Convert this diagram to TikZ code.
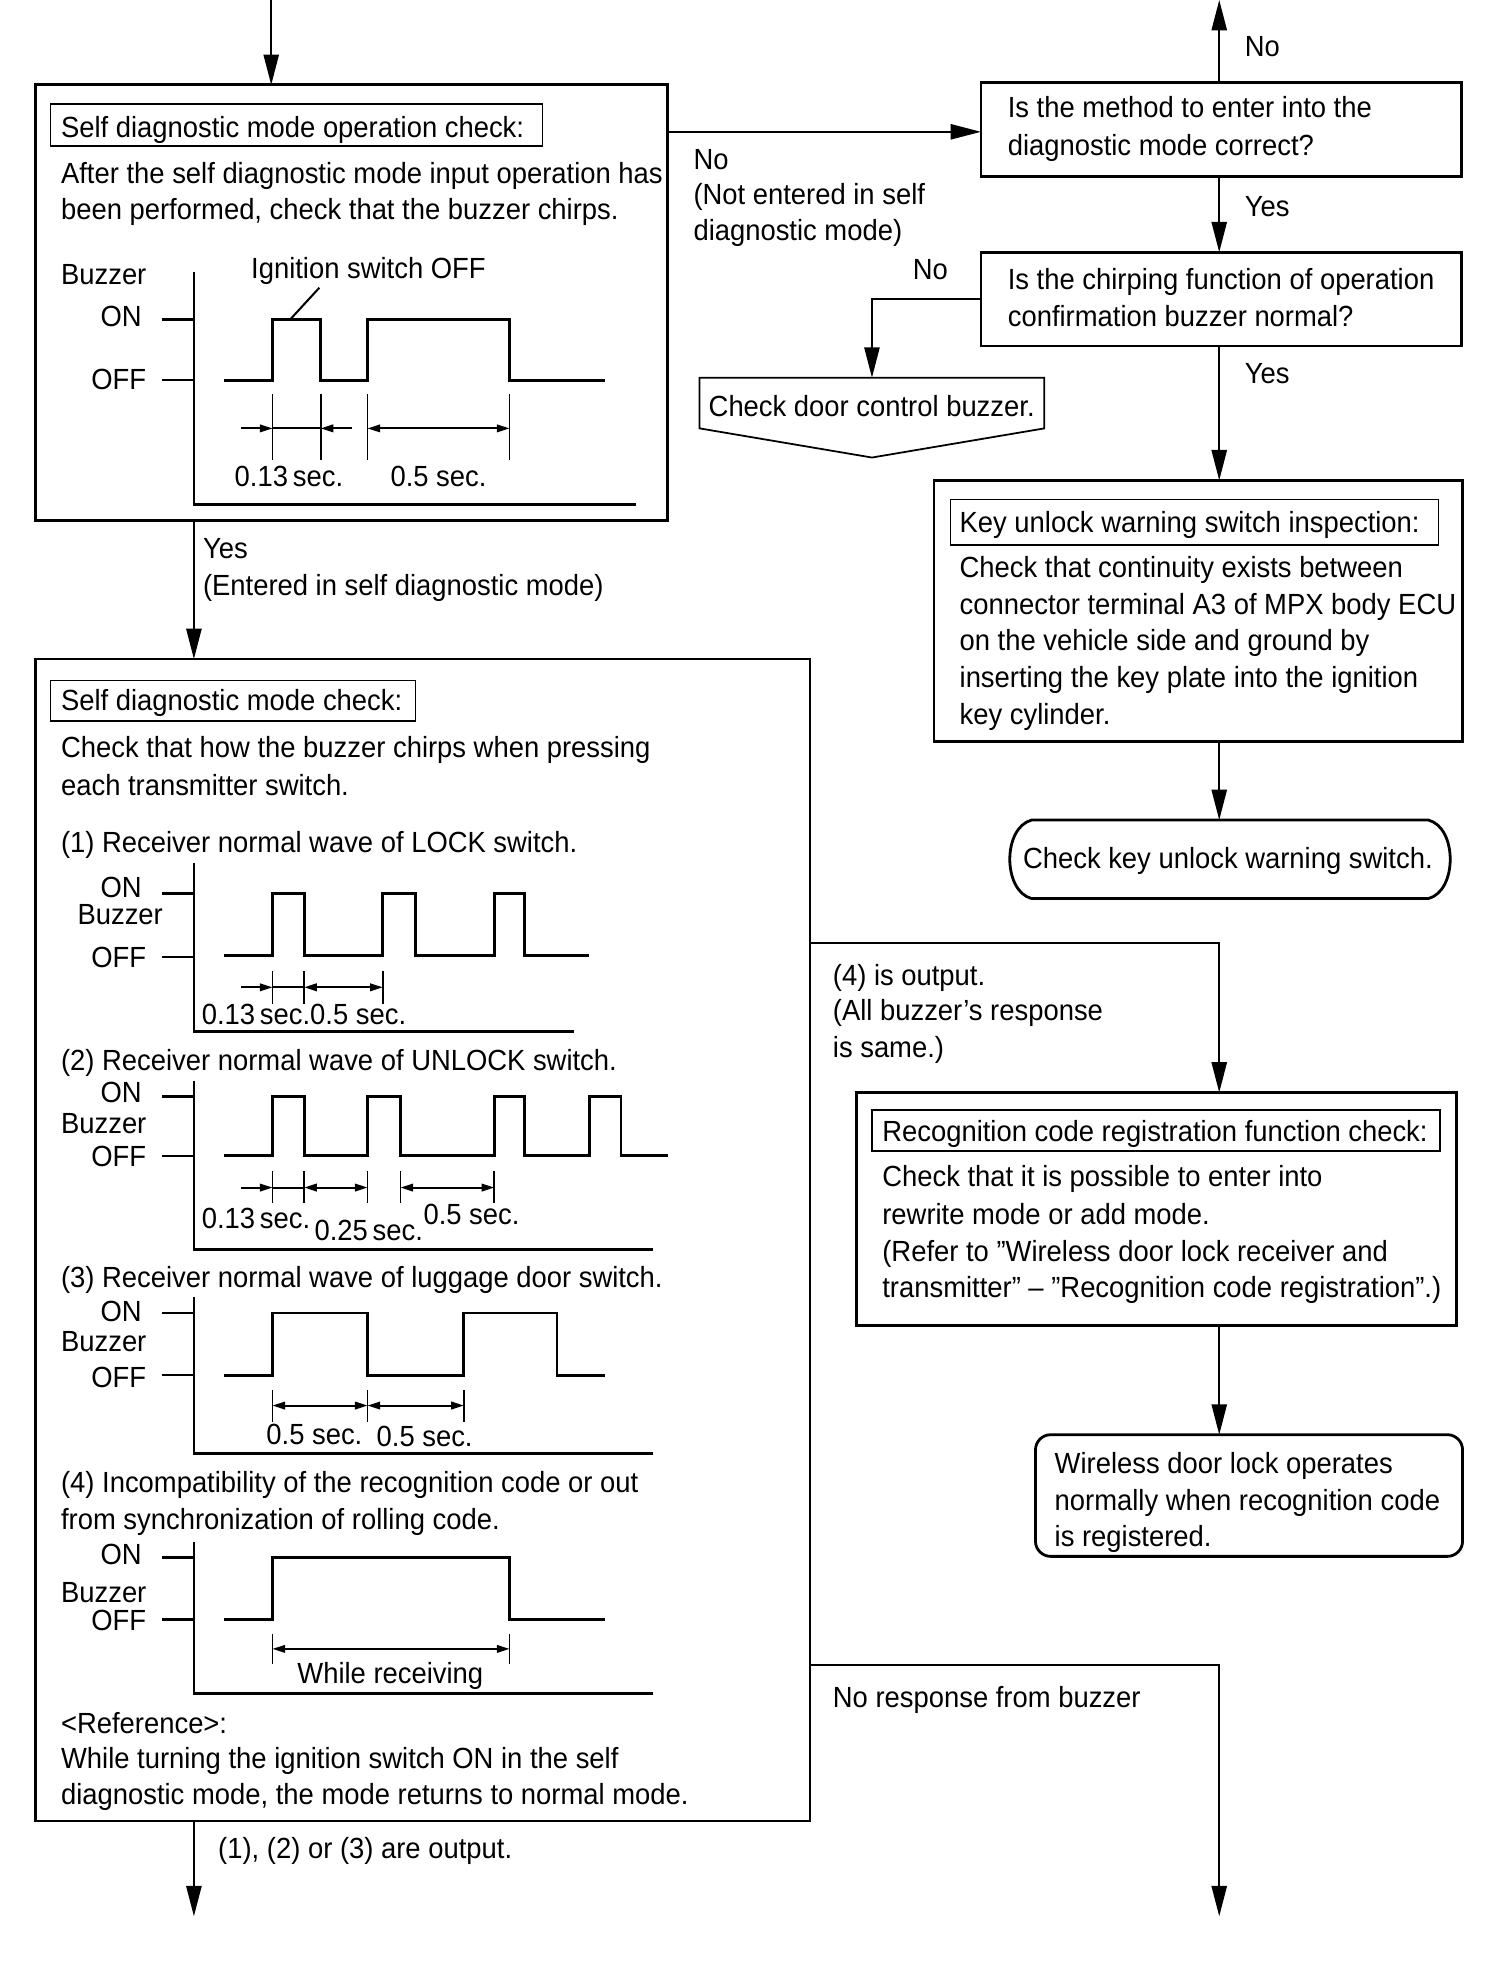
\documentclass[tikz,border=0pt]{standalone}
\usepackage{fontspec}
\setmainfont{Liberation Sans}[FakeStretch=0.94]
\usetikzlibrary{arrows.meta,calc}
\newcommand\myfont{\fontsize{23}{29}\selectfont}
\begin{document}
\begin{tikzpicture}[x=1pt,y=-1pt,
  txt/.style={inner sep=0pt, anchor=base west, font=\myfont},
  txtr/.style={inner sep=0pt, anchor=base east, font=\myfont},
  txtc/.style={inner sep=0pt, anchor=base, font=\myfont},
  box/.style={draw, rectangle, inner sep=0pt, outer sep=0pt, line width=2.2pt},
  thinbox/.style={draw, rectangle, inner sep=0pt, outer sep=0pt, line width=1.2pt},
  conn/.style={line width=1.6pt},
  arr/.style={conn, -{Triangle[length=24pt,width=12pt]}},
  wave/.style={line width=2.2pt, line join=miter},
  axis/.style={line width=2pt},
  dimt/.style={line width=1.5pt},
  darr/.style={line width=1.5pt, -{Triangle[length=10pt,width=6pt]}},
  ddarr/.style={line width=1.5pt, {Triangle[length=10pt,width=6pt]}-{Triangle[length=10pt,width=6pt]}}
]
\useasboundingbox (0,0) rectangle (1187,1567);

% ---------------- boxes ----------------
\node[box, line width=2.4pt, minimum width=499pt, minimum height=344pt] (b1) at (277.5,239) {};
\node[thinbox, minimum width=388pt, minimum height=33pt] (t1) at (234,98.5) {};
\node[box, minimum width=379pt, minimum height=74pt] (q1) at (963.5,102) {};
\node[box, minimum width=379pt, minimum height=74pt] (q2) at (963.5,236) {};
\node[box, minimum width=417pt, minimum height=206pt] (kb) at (945.5,482) {};
\node[thinbox, minimum width=385pt, minimum height=36pt] (kt) at (942.5,412) {};
\node[box, line width=1.6pt, minimum width=611pt, minimum height=917pt] (b2) at (333.5,978.5) {};
\node[thinbox, minimum width=288pt, minimum height=32pt] (t2) at (184,553) {};
\node[box, minimum width=473pt, minimum height=184pt] (rb) at (912.5,954) {};
\node[thinbox, minimum width=448pt, minimum height=32pt] (rt) at (912,892) {};
\node[box, rounded corners=12pt, minimum width=337pt, minimum height=96pt] (fb) at (985.5,1180) {};

% check door control buzzer (off-page shape)
\coordinate (cdtop) at (688,298);
\draw[line width=1.4pt] (552,298) -- (824,298) -- (824,338) -- (688,361) -- (552,338) -- cycle;
% terminal
\coordinate (cktop) at (962,647);
\draw[line width=2.2pt] (814,647) -- (1127,647) .. controls (1150,653) and (1150,703) .. (1127,709)
   -- (814,709) .. controls (791,703) and (791,653) .. (814,647) -- cycle;

% ---------------- connectors ----------------
\coordinate (in1) at (214,0);
\coordinate (colR) at (962,0);
\coordinate (colL) at (153,0);
\coordinate (cdx) at (688,0);
\coordinate (noY) at (0,104);
\coordinate (y4) at (0,744);
\coordinate (yNR) at (0,1314);
\coordinate (botL) at (153,1512);
\coordinate (botR) at (962,1512);

\draw[arr] (in1) -- (in1 |- b1.north);
\draw[arr] (q1.north -| colR) -- (colR);
\draw[arr] (b1.east |- noY) -- (q1.west |- noY);
\draw[arr] (q1.south -| colR) -- (q2.north -| colR);
\draw[arr] (q2.west) -- (q2.west -| cdx) -- (cdtop);
\draw[arr] (q2.south -| colR) -- (kb.north -| colR);
\draw[arr] (kb.south -| colR) -- (cktop);
\draw[arr] (b1.south -| colL) -- (b2.north -| colL);
\draw[arr] (b2.south -| colL) -- (botL);
\draw[arr] (b2.east |- y4) -| (rb.north -| colR);
\draw[arr] (rb.south -| colR) -- (fb.north -| colR);
\draw[arr] (b2.east |- yNR) -| (botR);

% ---------------- box 1 text & chart ----------------
\node[txt] (t1txt) at (48,108.5) {Self diagnostic mode operation check:};
\node[txt] (b1l1) at (48,144.5) {After the self diagnostic mode input operation has};
\node[txt] (b1l2) at (48,173.5) {been performed, check that the buzzer chirps.};
\node[txt] (bz0) at (48,224.5) {Buzzer};
\node[txt] (ign) at (198,219.5) {Ignition switch OFF};
\node[txtr] (on0) at (112,257.5) {ON};
\node[txtr] (off0) at (115.5,307.5) {OFF};
\node[txtc] (d01) at (228,383.5) {0.13\,sec.};
\node[txtc] (d02) at (346,383.5) {0.5 sec.};

\draw[axis] (153,215) -- (153,398) -- (502,398);
\draw[axis] (128,252) -- (153,252);
\draw[axis] (128,300) -- (153,300);
\draw[wave] (177,300) -- (215,300) -- (215,252) -- (253,252) -- (253,300) -- (290,300) -- (290,252) -- (402,252) -- (402,300) -- (477,300);
\draw[conn] (252,227) -- (229,252);
\foreach \x in {215,253,290,402} \draw[dimt] (\x,311) -- (\x,363);
\draw[darr] (190,338) -- (215,338);
\draw[dimt] (215,338) -- (253,338);
\draw[darr] (278,338) -- (253,338);
\draw[ddarr] (290,338) -- (402,338);

% ---------------- right column text ----------------
\node[txt] (no1) at (547,133.5) {No};
\node[txt] (no1b) at (547,161.5) {(Not entered in self};
\node[txt] (no1c) at (547,189.5) {diagnostic mode)};
\node[txt] (noTop) at (982,44.5) {No};
\node[txt] (q1a) at (795,92.5) {Is the method to enter into the};
\node[txt] (q1b) at (795,122.5) {diagnostic mode correct?};
\node[txt] (yes1) at (982,170.5) {Yes};
\node[txt] (q2a) at (795,228.5) {Is the chirping function of operation};
\node[txt] (q2b) at (795,257.5) {confirmation buzzer normal?};
\node[txt] (no2) at (720,220.5) {No};
\node[txt] (cdt) at (559,328.5) {Check door control buzzer.};
\node[txt] (yes2) at (982,302.5) {Yes};
\node[txt] (kttxt) at (757,420.5) {Key unlock warning switch inspection:};
\node[txt] (k1) at (757,455.5) {Check that continuity exists between};
\node[txt] (k2) at (757,484.5) {connector terminal A3 of MPX body ECU};
\node[txt] (k3) at (757,513.5) {on the vehicle side and ground by};
\node[txt] (k4) at (757,542.5) {inserting the key plate into the ignition};
\node[txt] (k5) at (757,571.5) {key cylinder.};
\node[txt] (ckt) at (807,685.5) {Check key unlock warning switch.};
\node[txt] (yes3) at (160,440.5) {Yes};
\node[txt] (ent) at (160,469.5) {(Entered in self diagnostic mode)};

% ---------------- box 2 ----------------
\node[txt] (t2txt) at (48,560.5) {Self diagnostic mode check:};
\node[txt] (b2l1) at (48,597.5) {Check that how the buzzer chirps when pressing};
\node[txt] (b2l2) at (48,627.5) {each transmitter switch.};
\node[txt] (s1) at (48,672.5) {(1) Receiver normal wave of LOCK switch.};
\node[txtr] (on1) at (112,708.5) {ON};
\node[txt] (bz1) at (61,729.5) {Buzzer};
\node[txtr] (off1) at (115.5,763.5) {OFF};
\node[txt] (d11) at (159,808.5) {0.13\,sec.0.5 sec.};
\draw[axis] (153,681) -- (153,814) -- (453,814);
\draw[axis] (128,705) -- (153,705);
\draw[axis] (128,755) -- (153,755);
\draw[wave] (177,754) -- (215,754) -- (215,705) -- (240,705) -- (240,754) -- (302,754) -- (302,705) -- (328,705) -- (328,754) -- (390,754) -- (390,705) -- (414,705) -- (414,754) -- (465,754);
\foreach \x in {215,240,302} \draw[dimt] (\x,766) -- (\x,792);
\draw[darr] (190,779) -- (215,779);
\draw[dimt] (215,779) -- (240,779);
\draw[ddarr] (240,779) -- (302,779);

\node[txt] (s2) at (48,844.5) {(2) Receiver normal wave of UNLOCK switch.};
\node[txtr] (on2) at (112,869.5) {ON};
\node[txt] (bz2) at (48,894.5) {Buzzer};
\node[txtr] (off2) at (115.5,920.5) {OFF};
\node[txt] (d21) at (159,969.5) {0.13\,sec.};
\node[txt] (d22) at (248,978.5) {0.25\,sec.};
\node[txt] (d23) at (334,966.5) {0.5 sec.};
\draw[axis] (153,853) -- (153,986) -- (515,986);
\draw[axis] (128,865) -- (153,865);
\draw[axis] (128,912) -- (153,912);
\draw[wave] (177,912) -- (215,912) -- (215,865) -- (240,865) -- (240,912) -- (290,912) -- (290,865) -- (316,865) -- (316,912) -- (390,912) -- (390,865) -- (414,865) -- (414,912) -- (465,912) -- (465,865) -- (490,865) -- (490,912) -- (527,912);
\foreach \x in {215,240,290,316,390} \draw[dimt] (\x,924) -- (\x,949);
\draw[darr] (190,937) -- (215,937);
\draw[dimt] (215,937) -- (240,937);
\draw[ddarr] (240,937) -- (290,937);
\draw[ddarr] (316,937) -- (390,937);

\node[txt] (s3) at (48,1015.5) {(3) Receiver normal wave of luggage door switch.};
\node[txtr] (on3) at (112,1042.5) {ON};
\node[txt] (bz3) at (48,1066.5) {Buzzer};
\node[txtr] (off3) at (115.5,1094.5) {OFF};
\node[txt] (d31) at (210,1139.5) {0.5 sec.};
\node[txt] (d32) at (297,1141.5) {0.5 sec.};
\draw[axis] (153,1023) -- (153,1147) -- (515,1147);
\draw[axis] (128,1036) -- (153,1036);
\draw[axis] (128,1085) -- (153,1085);
\draw[wave] (177,1085) -- (215,1085) -- (215,1036) -- (290,1036) -- (290,1085) -- (366,1085) -- (366,1036) -- (439.5,1036) -- (439.5,1085) -- (477.5,1085);
\foreach \x in {215,290,366} \draw[dimt] (\x,1097) -- (\x,1122);
\draw[ddarr] (215,1109) -- (290,1109);
\draw[ddarr] (290,1109) -- (366,1109);

\node[txt] (s4a) at (48,1177.5) {(4) Incompatibility of the recognition code or out};
\node[txt] (s4b) at (48,1206.5) {from synchronization of rolling code.};
\node[txtr] (on4) at (112,1234.5) {ON};
\node[txt] (bz4) at (48,1264.5) {Buzzer};
\node[txtr] (off4) at (115.5,1286.5) {OFF};
\node[txtc] (d41) at (308,1328.5) {While receiving};
\draw[axis] (153,1217) -- (153,1336) -- (515,1336);
\draw[axis] (128,1229) -- (153,1229);
\draw[axis] (128,1278) -- (153,1278);
\draw[wave] (177,1278) -- (215,1278) -- (215,1229) -- (402,1229) -- (402,1278) -- (477.5,1278);
\foreach \x in {215,402} \draw[dimt] (\x,1289) -- (\x,1313);
\draw[ddarr] (215,1301) -- (402,1301);

\node[txt] (ref) at (48,1367.5) {<Reference>:};
\node[txt] (ref1) at (48,1395.5) {While turning the ignition switch ON in the self};
\node[txt] (ref2) at (48,1423.5) {diagnostic mode, the mode returns to normal mode.};
\node[txt] (out123) at (172,1466.5) {(1), (2) or (3) are output.};

\node[txt] (o4a) at (657,777.5) {(4) is output.};
\node[txt] (o4b) at (657,805.5) {(All buzzer’s response};
\node[txt] (o4c) at (657,834.5) {is same.)};

\node[txt] (rttxt) at (696,900.5) {Recognition code registration function check:};
\node[txt] (r1) at (696,936.5) {Check that it is possible to enter into};
\node[txt] (r2) at (696,966.5) {rewrite mode or add mode.};
\node[txt] (r3) at (696,995.5) {(Refer to ”Wireless door lock receiver and};
\node[txt] (r4) at (696,1023.5) {transmitter” – ”Recognition code registration”.)};

\node[txt] (f1) at (832,1162.5) {Wireless door lock operates};
\node[txt] (f2) at (832,1191.5) {normally when recognition code};
\node[txt] (f3) at (832,1220.5) {is registered.};

\node[txt] (nr) at (657,1347.5) {No response from buzzer};
\end{tikzpicture}
\end{document}
